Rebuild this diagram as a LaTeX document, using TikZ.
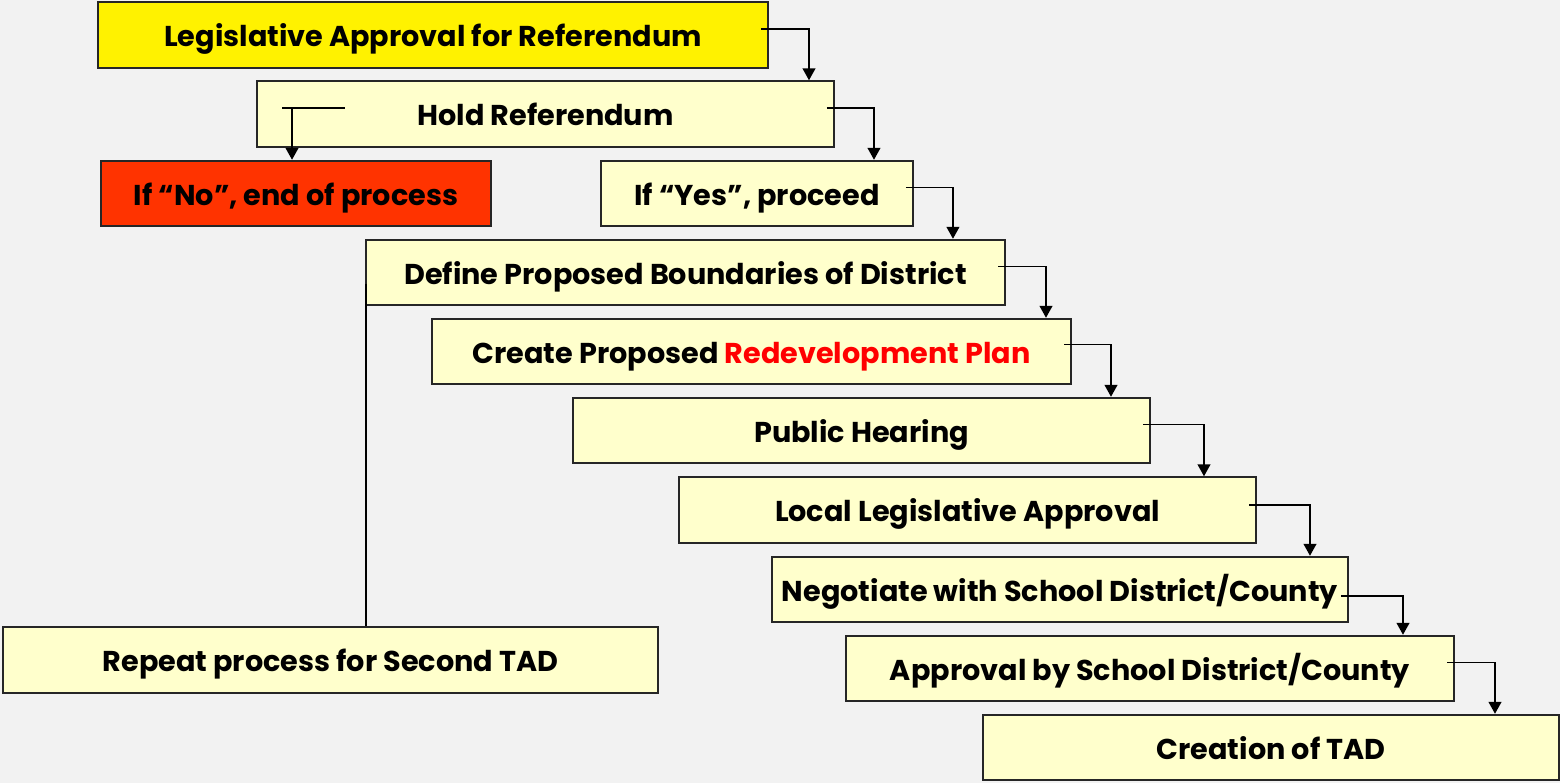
\documentclass[tikz,border=0pt]{standalone}
\usepackage{fontspec}
\setmainfont{Poppins}
\usetikzlibrary{calc,arrows.meta}

\definecolor{paper}{HTML}{F2F2F2}
\definecolor{paleyellow}{HTML}{FFFFCC}
\definecolor{stopred}{HTML}{FF3300}

\tikzset{
  stepbox/.style={draw=black!85, line width=1.3pt, fill=paleyellow,
    minimum height=1.64cm, inner sep=0pt, text height=17pt, text depth=0pt,
    font=\bfseries\fontsize{20.4}{24}\selectfont},
  flow/.style={line width=1.3pt, -{Triangle[width=0.32cm,length=0.3cm]}}
}

\begin{document}
\begin{tikzpicture}[x=0.025cm,y=-0.025cm]
   % page in pixel units, y running down
   \fill[paper] (0,0) rectangle (1560,783);
   \useasboundingbox (0,0) rectangle (1560,783);

   \node[stepbox, fill=yellow, minimum width=16.75cm] (legis) at (433,35) {Legislative Approval for Referendum};
   \node[stepbox, minimum width=14.425cm] (hold) at (545.5,114) {Hold Referendum};
   \node[stepbox, fill=stopred, minimum width=9.75cm] (no) at (296,193.5) {If “No”, end of process};
   \node[stepbox, minimum width=7.8cm] (yes) at (757,193.5) {If “Yes”, proceed};
   \node[stepbox, minimum width=15.975cm] (define) at (685.5,272.5) {Define Proposed Boundaries of District};
   \node[stepbox, minimum width=15.975cm] (create) at (751.5,351.5) {Create Proposed \textcolor{red}{Redevelopment Plan}};
   \node[stepbox, minimum width=14.425cm] (hearing) at (861.5,430.5) {Public Hearing};
   \node[stepbox, minimum width=14.425cm] (local) at (967.5,510) {Local Legislative Approval};
   \node[stepbox, minimum width=14.4cm] (negot) at (1060,589.5) {Negotiate with School District/County};
   \node[stepbox, minimum width=15.2cm] (approval) at (1150,668.5) {Approval by School District/County};
   \node[stepbox, minimum width=14.4cm] (creation) at (1271,747.5) {Creation of TAD};
   \node[stepbox, minimum width=16.375cm] (repeat) at (330.5,660) {Repeat process for Second TAD};

   % staircase of elbow arrows: from/to/offset/rise
   \foreach \a/\b/\d/\r in {legis/hold/40/-6, hold/yes/39/-6, yes/define/39/-6,
       define/create/40/-6, create/hearing/39/-7, hearing/local/53/-6,
       local/negot/53/-5, negot/approval/54/6.5, approval/creation/40/-6}
     \draw[flow] ($(\a.east)+(-8,\r)$) -| ($(\a.east |- \b.north)+(\d,0)$);

   % "no" branch
   \coordinate (nojoin) at ($(hold.west)+(36,-6)$);
   \draw[line width=1.3pt] ($(hold.west)+(26,-6)$) -- ++(63,0);
   \draw[flow] (nojoin) -- (nojoin |- no.north);

   % back down to the second district
   \coordinate (loopback) at ($(define.west)+(1,11)$);
   \draw[line width=1.3pt] (loopback) -- (loopback |- repeat.north);
\end{tikzpicture}
\end{document}
